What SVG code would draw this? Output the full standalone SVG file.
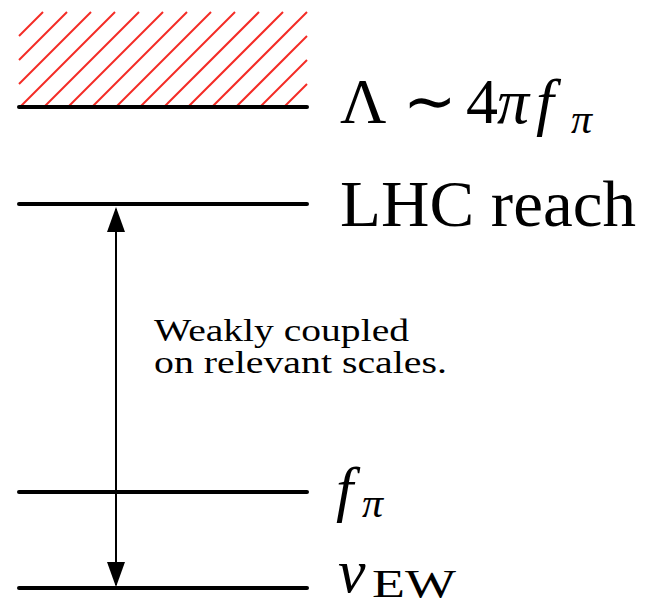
<svg xmlns="http://www.w3.org/2000/svg" width="650" height="606" viewBox="0 0 650 606">
<style>
.lvl{stroke:#000;stroke-width:4;stroke-linecap:round;fill:none}
.hatch{stroke:#f42b25;stroke-width:2;stroke-linecap:butt}
text{font-family:"Liberation Serif","Times New Roman",serif;fill:#000}
.it{font-style:italic}
.conn{stroke:#000;stroke-width:2;fill:none}
</style>
<defs>
<marker id="ah" markerUnits="userSpaceOnUse" markerWidth="26" markerHeight="20" refX="23" refY="9" orient="auto-start-reverse" viewBox="0 0 26 20">
<path d="M0,0 L25,9 L0,18 Z" fill="#000"/>
</marker>
</defs>
<rect width="650" height="606" fill="#fff"/>
<g id="hatching">
<line class="hatch" x1="19" y1="36" x2="43" y2="12"/>
<line class="hatch" x1="19" y1="60" x2="67" y2="12"/>
<line class="hatch" x1="19" y1="84" x2="91" y2="12"/>
<line class="hatch" x1="20" y1="107" x2="115" y2="12"/>
<line class="hatch" x1="44" y1="107" x2="139" y2="12"/>
<line class="hatch" x1="68" y1="107" x2="163" y2="12"/>
<line class="hatch" x1="92" y1="107" x2="187" y2="12"/>
<line class="hatch" x1="116" y1="107" x2="211" y2="12"/>
<line class="hatch" x1="140" y1="107" x2="235" y2="12"/>
<line class="hatch" x1="164" y1="107" x2="259" y2="12"/>
<line class="hatch" x1="188" y1="107" x2="283" y2="12"/>
<line class="hatch" x1="212" y1="107" x2="307" y2="12"/>
<line class="hatch" x1="236" y1="107" x2="307" y2="36"/>
<line class="hatch" x1="260" y1="107" x2="307" y2="60"/>
<line class="hatch" x1="284" y1="107" x2="307" y2="84"/>
</g>
<g id="cutoff">
<line class="lvl" x1="19" y1="107" x2="307" y2="107"/>
<text font-family="Liberation Serif, serif" y="123" font-size="64"><tspan x="340">Λ</tspan><tspan x="403">∼</tspan><tspan x="466">4</tspan><tspan x="497" class="it">π</tspan><tspan x="536" class="it">f</tspan></text>
<text font-family="Liberation Serif, serif" class="it" x="571" y="133" font-size="42">π</text>
</g>
<g id="lhc">
<line class="lvl" x1="19" y1="204" x2="307" y2="204"/>
<text font-family="Liberation Serif, serif" x="340" y="226" font-size="66" textLength="296" lengthAdjust="spacingAndGlyphs">LHC reach</text>
</g>
<g id="fpi">
<line class="lvl" x1="19" y1="492" x2="307" y2="492"/>
<text font-family="Liberation Serif, serif" class="it" x="336" y="510" font-size="62">f</text>
<text font-family="Liberation Serif, serif" class="it" x="362" y="517" font-size="42">π</text>
</g>
<g id="vew">
<line class="lvl" x1="19" y1="588" x2="307" y2="588"/>
<text font-family="Liberation Serif, serif" class="it" x="338" y="592" font-size="62">v</text>
<text font-family="Liberation Serif, serif" x="372" y="597" font-size="40" textLength="84" lengthAdjust="spacingAndGlyphs">EW</text>
</g>
<g id="note">
<text font-family="Liberation Serif, serif" x="154" y="341" font-size="31" textLength="255" lengthAdjust="spacingAndGlyphs">Weakly coupled</text>
<text font-family="Liberation Serif, serif" x="154" y="373" font-size="31" textLength="293" lengthAdjust="spacingAndGlyphs">on relevant scales.</text>
</g>
<g id="connectors">
<line class="conn" x1="116" y1="209" x2="116" y2="585" marker-start="url(#ah)" marker-end="url(#ah)"/>
</g>
</svg>
